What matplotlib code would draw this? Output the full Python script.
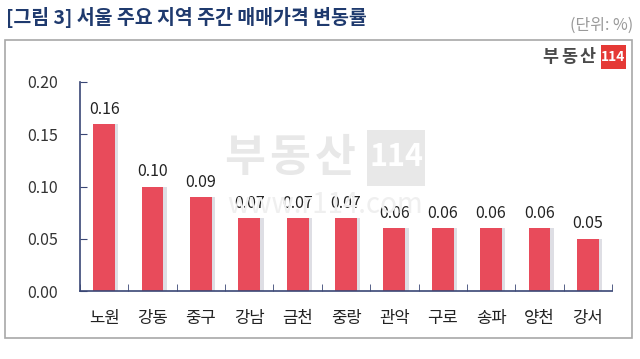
import matplotlib.pyplot as plt
import matplotlib.patches as mpatches
import numpy as np

plt.rcParams['font.family'] = ['Noto Sans CJK KR', 'DejaVu Sans']

regions = ["노원", "강동", "중구", "강남", "금천", "중랑", "관악", "구로", "송파", "양천", "강서"]
values = [0.16, 0.10, 0.09, 0.07, 0.07, 0.07, 0.06, 0.06, 0.06, 0.06, 0.05]
yticks = [0.00, 0.05, 0.10, 0.15, 0.20]

BAR = "#E84B5B"
NAVY = "#3A4775"
W, H = 640, 359


def fx(px):
    return px / W


def fy(py):
    return 1 - py / H


fig = plt.figure(figsize=(6.4, 3.59), dpi=100)
fig.patch.set_facecolor("white")

# frame
fig.patches.append(mpatches.Rectangle((fx(5), fy(338)), 627 / W, 298 / H,
                                      transform=fig.transFigure, fill=False,
                                      edgecolor="#A8A8A8", lw=1.2))

fig.text(fx(6), fy(18), "[그림 3] 서울 주요 지역 주간 매매가격 변동률",
         color="#1F3A6E", fontsize=14, fontweight="bold", va="center", ha="left")
fig.text(fx(633), fy(25), "(단위: %)", color="#9A9A9A", fontsize=11.5,
         va="center", ha="right")

# logo
for cx, ch in zip([550, 569, 588], "부동산"):
    fig.text(fx(cx), fy(57), ch, color="#4A4A4A", fontsize=12.5,
             fontweight="heavy", va="center", ha="center")
fig.patches.append(mpatches.Rectangle((fx(601), fy(69)), 25 / W, 24 / H,
                                      transform=fig.transFigure,
                                      facecolor="#E53935", edgecolor="none"))
fig.text(fx(613.5), fy(57), "114", color="white", fontsize=10, fontweight="bold",
         va="center", ha="center")

# watermark
for cx, ch in zip([245, 290, 335], "부동산"):
    fig.text(fx(cx), fy(158), ch, color="#E8E8E8", fontsize=32,
             fontweight="heavy", va="center", ha="center", zorder=0)
fig.patches.append(mpatches.Rectangle((fx(367), fy(186)), 58 / W, 56 / H,
                                      transform=fig.transFigure,
                                      facecolor="#E8E8E8", edgecolor="none", zorder=0))
fig.text(fx(396), fy(157), "114", color="white", fontsize=22, fontweight="bold",
         va="center", ha="center", zorder=0)
fig.text(fx(325), fy(205), "www.r114.com", color="#EFEFEF", fontsize=20,
         va="center", ha="center", zorder=0)

ax = fig.add_axes([fx(80), fy(291), 532 / W, 209 / H])
ax.patch.set_alpha(0)
x = np.arange(len(regions))
# shadow
ax.bar(x + 0.07, values, width=0.45, color="#C9C9D2", alpha=0.6, zorder=1)
ax.bar(x, values, width=0.45, color=BAR, zorder=2)
for xi, v in zip(x, values):
    ax.text(xi, v + 0.006, f"{v:.2f}", ha="center", va="bottom", fontsize=11.5,
            color="#222222")

ax.set_xlim(-0.5, len(regions) - 0.5)
ax.set_ylim(0, 0.20)
ax.set_yticks(yticks)
ax.set_yticklabels([f"{t:.2f}" for t in yticks], fontsize=11.5, color="#333333")
ax.tick_params(axis="y", direction="in", length=5, color=NAVY, pad=16)
ax.set_xticks(x)
ax.set_xticklabels(regions, fontsize=12, color="#222222")
ax.tick_params(axis="x", length=0, pad=14)
ax.set_xticks(np.arange(-0.5, len(regions)), minor=True)
ax.tick_params(axis="x", which="minor", direction="in", length=5, color=NAVY)

for s in ["top", "right"]:
    ax.spines[s].set_visible(False)
for s in ["left", "bottom"]:
    ax.spines[s].set_color(NAVY)
    ax.spines[s].set_linewidth(1.2)

fig.savefig("out.png", dpi=100, facecolor="white")
